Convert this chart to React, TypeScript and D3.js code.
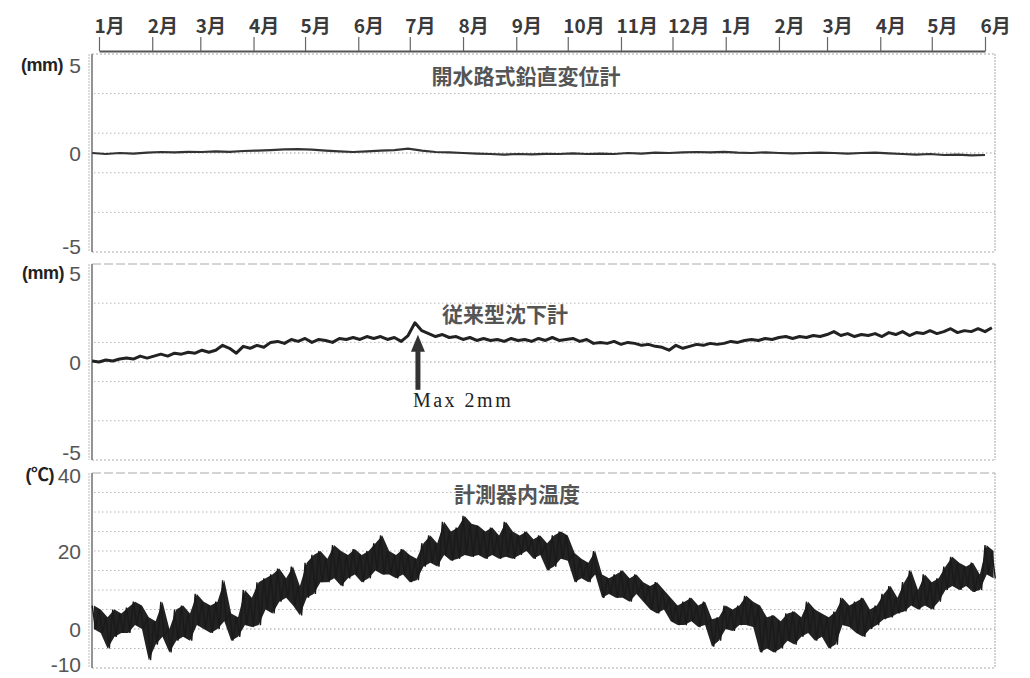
import React, { useEffect, useRef } from 'react';
import * as d3 from 'd3';

const W = 1030;
const H = 678;

// 上部の月目盛り (2001/1 〜 2002/6)
const monthTicks = [
  '2001-01', '2001-02', '2001-03', '2001-04', '2001-05', '2001-06', '2001-07', '2001-08', '2001-09',
  '2001-10', '2001-11', '2001-12', '2002-01', '2002-02', '2002-03', '2002-04', '2002-05', '2002-06',
];

// データ開始日
const DATA_START = new Date(2000, 11, 28);

// 開水路式鉛直変位計 (mm) 8日毎
const verticalStep = 8;
const verticalDisp = [
  0.0, -0.05, 0.0, -0.03, 0.02, 0.05, 0.03, 0.06, 0.05, 0.08, 0.06, 0.1, 0.12, 0.15, 0.18, 0.2,
  0.17, 0.12, 0.08, 0.05, 0.08, 0.12, 0.15, 0.22, 0.12, 0.05, 0.03, 0.0, -0.03, -0.05, -0.08, -0.05,
  -0.07, -0.04, -0.05, -0.02, -0.05, -0.03, -0.05, 0.0, -0.03, 0.02, 0.0, 0.03, 0.05, 0.03, 0.06, 0.02,
  0.0, 0.03, 0.0, -0.02, 0.0, 0.02, 0.0, -0.03, 0.0, 0.02, -0.02, -0.05, -0.08, -0.05, -0.1, -0.08,
  -0.12, -0.1,
];

// 従来型沈下計 (mm) 4日毎
const settleStep = 4;
const settlement = [
  0.05, 0.0, 0.1, 0.05, 0.15, 0.2, 0.15, 0.3, 0.2, 0.3, 0.4, 0.3, 0.45, 0.4, 0.5, 0.45,
  0.6, 0.5, 0.6, 0.85, 0.7, 0.45, 0.8, 0.7, 0.85, 0.75, 1.0, 1.05, 0.95, 1.15, 1.05, 1.2,
  1.0, 1.15, 1.1, 1.0, 1.2, 1.15, 1.25, 1.15, 1.3, 1.2, 1.3, 1.15, 1.25, 1.05, 1.35, 2.0,
  1.6, 1.45, 1.3, 1.4, 1.25, 1.3, 1.15, 1.25, 1.1, 1.2, 1.1, 1.15, 1.05, 1.2, 1.1, 1.15,
  1.05, 1.2, 1.1, 1.25, 1.1, 1.15, 1.2, 1.05, 1.15, 0.95, 1.0, 0.95, 1.05, 0.9, 1.0, 0.95,
  0.85, 0.9, 0.8, 0.75, 0.6, 0.85, 0.7, 0.8, 0.9, 0.85, 0.95, 0.9, 0.95, 1.05, 1.0, 1.1,
  1.15, 1.1, 1.2, 1.15, 1.25, 1.3, 1.2, 1.3, 1.25, 1.35, 1.3, 1.4, 1.55, 1.35, 1.45, 1.3,
  1.4, 1.35, 1.45, 1.3, 1.5, 1.4, 1.55, 1.35, 1.5, 1.45, 1.6, 1.45, 1.55, 1.7, 1.5, 1.6,
  1.55, 1.7, 1.55, 1.75,
];

// 計測器内温度 (℃) 4日毎の最高・最低
const tempStep = 4;
const tempHigh = [
  6, 5, 3, 5, 4, 5.5, 7, 6, 3, 2, 7, 0, 5, 6, 4, 9,
  7, 6, 7, 12.5, 4, 3, 10, 8, 12, 13, 14, 15.5, 13, 16, 11, 17,
  19, 20, 18, 21.5, 20, 19, 20.5, 19, 20, 22, 24, 20, 19, 20.5, 19, 18,
  22, 24, 22, 27.5, 25, 26, 29, 27, 26.5, 25, 26, 24, 27.5, 25, 24, 25,
  23, 24, 22, 24, 25, 24, 19.5, 18, 17, 20, 14, 13, 14, 15, 13, 14,
  12, 11, 12, 10, 8, 6, 7, 8, 6, 7, 2.5, 3, 6, 5, 6, 8.5,
  7, 6, 3, 3.5, 2, 4, 4.5, 3, 7, 5, 4, 3, 4.5, 8, 6, 7,
  8, 5, 6, 9, 11, 8, 12, 15, 10, 14, 12, 13, 16, 18.5, 17, 16,
  17, 14, 21.5, 20,
];
const tempLow = [
  0, -1, -5, -2, -1, -1, 1, 0, -8, -4, -2, -6, -3, -2, -3, 1,
  0, -1, 0, 2, -3, -2, 1, 0.5, 1, 5, 4, 7, 8, 6, 3.5, 8,
  9, 12, 12, 13, 11, 13, 14, 12, 13, 15, 14, 14, 13, 14, 12, 12.5,
  16, 17, 16, 19, 17.5, 18, 19, 18.5, 19, 18, 19, 18, 18.5, 18, 19, 20,
  18, 19, 15, 16, 18, 17.5, 12, 13, 12, 14, 8, 9, 8, 8, 7, 9,
  7, 5, 4, 5, 2, 1, 1, 2, 0.5, 1, -4.5, -3, 0, -0.5, 1, 1,
  0.5, -6, -5, -6, -5, -3, -4, -2, -1, -3, -2, -5, -4, 1, 0.5, -1,
  -2, 0, 1, 2.5, 3, 4, 4.5, 6, 5, 6, 5, 7, 10, 11, 10, 11,
  9.5, 10, 14, 13,
];

const titles = ['開水路式鉛直変位計', '従来型沈下計', '計測器内温度'];
const units = ['(mm)', '(mm)', '(℃)'];
const tickLabels = [[5, 0, -5], [5, 0, -5], [40, 20, 0, -10]];
const gridValues = [[-3, -1, 0, 1, 3], [-3, -1, 0, 1, 3], [-5, 0, 5, 10, 15, 20, 25, 30, 35]];
const domains: [number, number][] = [[-5, 5], [-5, 5], [-10, 40]];
const maxLabel = 'Max 2mm';

const LEFT = 92;
const RIGHT = 995;
const FRAMES = [
  { top: 54, bottom: 252, unitX: 63, shiftTop: 11, shiftBottom: -6, titleX: 526, titleY: 84 },
  { top: 264, bottom: 460, unitX: 64, shiftTop: 9, shiftBottom: -8, titleX: 505, titleY: 322 },
  { top: 473, bottom: 668, unitX: 54, shiftTop: 2, shiftBottom: -4, titleX: 517, titleY: 502 },
];

const parseMonth = d3.timeParse('%Y-%m');

export default function App() {
  const svgRef = useRef<SVGSVGElement>(null);

  useEffect(() => {
    if (!svgRef.current) return;
    const svg = d3.select(svgRef.current);
    svg.selectAll('*').remove();

    const months = monthTicks.map(m => parseMonth(m)!);
    const x = d3.scaleTime()
      .domain([months[0], months[months.length - 1]])
      .range([99, 985]);
    const dateAt = (i: number, step: number) => d3.timeDay.offset(DATA_START, i * step);

    svg.append('rect').attr('width', W).attr('height', H).attr('fill', 'white');

    // 上部の月軸
    const axis = svg.append('g')
      .attr('transform', 'translate(0,51)')
      .call(d3.axisTop(x).tickValues(months).tickSize(14).tickSizeOuter(0).tickPadding(4)
        .tickFormat(d => `${(d as Date).getMonth() + 1}月`));
    axis.select('.domain').attr('stroke', '#555').attr('stroke-width', 2.2);
    axis.selectAll('.tick line').attr('stroke', '#666').attr('stroke-width', 1.2);
    axis.selectAll('.tick text')
      .attr('text-anchor', 'start')
      .attr('x', -5)
      .style('font-family', '"Noto Sans CJK JP", sans-serif')
      .style('font-size', '19px')
      .style('font-weight', 700)
      .style('fill', '#3a3a3a');

    FRAMES.forEach((f, p) => {
      const y = d3.scaleLinear().domain(domains[p]).range([f.bottom, f.top]);
      const g = svg.append('g');

      // 格子線
      g.selectAll('line.grid').data(gridValues[p]).enter().append('line')
        .attr('x1', LEFT + 2).attr('x2', RIGHT)
        .attr('y1', d => y(d)).attr('y2', d => y(d))
        .attr('stroke', d => (d === 0 ? '#999' : '#b5b5b5'))
        .attr('stroke-width', 1)
        .attr('stroke-dasharray', '1.5,2.5');

      // 枠
      g.append('line').attr('x1', LEFT).attr('x2', RIGHT).attr('y1', f.top).attr('y2', f.top)
        .attr('stroke', '#aaa').attr('stroke-dasharray', p === 0 ? '2,2' : '9,3');
      g.append('line').attr('x1', LEFT).attr('x2', RIGHT).attr('y1', f.bottom).attr('y2', f.bottom)
        .attr('stroke', '#aaa').attr('stroke-dasharray', '2,2');
      g.append('line').attr('x1', RIGHT).attr('x2', RIGHT).attr('y1', f.top).attr('y2', f.bottom)
        .attr('stroke', '#aaa').attr('stroke-dasharray', '2,1');
      g.append('line').attr('x1', LEFT - 3).attr('x2', LEFT - 3).attr('y1', f.top).attr('y2', f.bottom)
        .attr('stroke', '#bbb').attr('stroke-dasharray', '2,1');
      g.append('line').attr('x1', LEFT).attr('x2', LEFT).attr('y1', f.top).attr('y2', f.bottom)
        .attr('stroke', '#888').attr('stroke-width', 1.8);

      // 目盛りラベル
      const [lo, hi] = domains[p];
      g.selectAll('text.tick').data(tickLabels[p]).enter().append('text')
        .attr('x', 81)
        .attr('y', d => y(d) + (d === hi ? f.shiftTop : d === lo ? f.shiftBottom : 0))
        .attr('dy', '0.36em')
        .attr('text-anchor', 'end')
        .text(d => d)
        .style('font-family', '"Liberation Sans Narrow", "Liberation Sans", sans-serif')
        .style('font-size', '21px')
        .style('fill', '#555');

      g.append('text')
        .attr('x', f.unitX)
        .attr('y', y(hi) + f.shiftTop)
        .attr('dy', '0.36em')
        .attr('text-anchor', 'end')
        .text(units[p])
        .style('font-family', '"Liberation Sans", "Noto Sans CJK JP", sans-serif')
        .style('font-size', '18px')
        .style('font-weight', 700)
        .style('letter-spacing', '-0.5px')
        .style('fill', '#222');

      g.append('text')
        .attr('x', f.titleX)
        .attr('y', f.titleY)
        .attr('text-anchor', 'middle')
        .text(titles[p])
        .style('font-family', '"Noto Sans CJK JP", sans-serif')
        .style('font-size', '21px')
        .style('font-weight', 700)
        .style('fill', '#555');

      if (p === 0) {
        const line = d3.line<number>().x((_, i) => x(dateAt(i, verticalStep))).y(d => y(d));
        g.append('path').datum(verticalDisp).attr('d', line)
          .attr('fill', 'none').attr('stroke', '#333').attr('stroke-width', 2.2);
      }

      if (p === 1) {
        const line = d3.line<number>().x((_, i) => x(dateAt(i, settleStep))).y(d => y(d));
        g.append('path').datum(settlement).attr('d', line)
          .attr('fill', 'none').attr('stroke', '#222').attr('stroke-width', 3)
          .attr('stroke-linejoin', 'round');

        // 最大値の注記
        const mi = d3.maxIndex(settlement);
        const ax = x(dateAt(mi, settleStep)) + 3;
        const tipY = y(settlement[mi]) + 12;
        g.append('path')
          .attr('d', `M${ax},${tipY} L${ax - 7},${tipY + 17} L${ax + 7},${tipY + 17} Z`)
          .attr('fill', '#333');
        g.append('rect')
          .attr('x', ax - 2.5).attr('y', tipY + 15).attr('width', 5).attr('height', 40)
          .attr('fill', '#333');
        g.append('text')
          .attr('x', ax - 5)
          .attr('y', tipY + 72)
          .text(maxLabel)
          .style('font-family', '"Liberation Serif", "DejaVu Serif", serif')
          .style('font-size', '20px')
          .style('letter-spacing', '2.5px')
          .style('fill', '#222');
      }

      if (p === 2) {
        const pts: [Date, number][] = [];
        tempHigh.forEach((h, i) => {
          pts.push([dateAt(i, tempStep), h]);
          pts.push([d3.timeDay.offset(dateAt(i, tempStep), 2), tempLow[i]]);
        });
        const area = d3.area<number>()
          .x((_, i) => x(d3.timeDay.offset(dateAt(i, tempStep), 1)))
          .y0((_, i) => y(tempLow[i]))
          .y1(d => y(d));
        g.append('path').datum(tempHigh).attr('d', area).attr('fill', '#222');
        const line = d3.line<[Date, number]>().x(d => x(d[0])).y(d => y(d[1]));
        g.append('path').datum(pts).attr('d', line)
          .attr('fill', 'none').attr('stroke', '#1a1a1a').attr('stroke-width', 1.4);
      }
    });
  }, []);

  return (
    <svg ref={svgRef} width={W} height={H}
      style={{ position: 'absolute', left: 0, top: 0, background: 'white' }} />
  );
}
